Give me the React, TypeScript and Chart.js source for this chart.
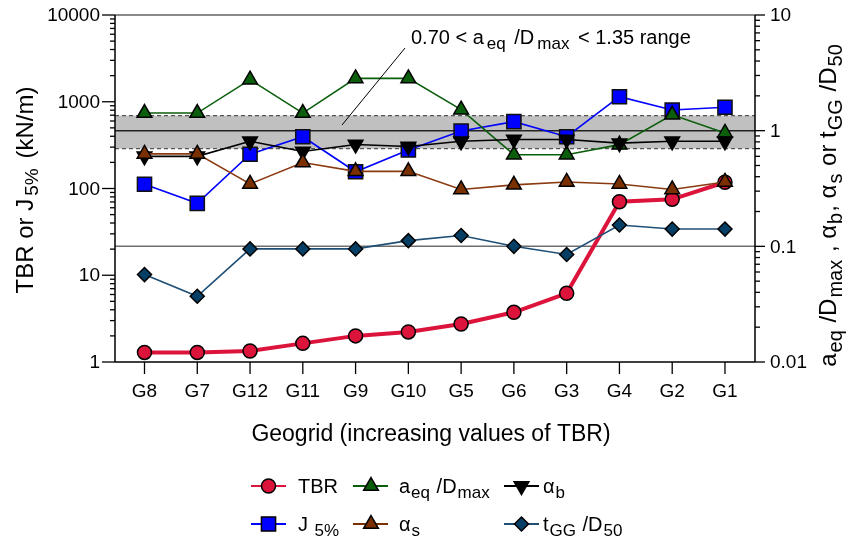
import React, { useEffect, useRef } from 'react';
import { Chart, registerables } from 'chart.js';
import { drawPoint } from 'chart.js/helpers';

Chart.register(...registerables);

// Geogrids, sorted by increasing TBR
const geogrids = ['G8', 'G7', 'G12', 'G11', 'G9', 'G10', 'G5', 'G6', 'G3', 'G4', 'G2', 'G1'];

// Left axis (kN/m)
const tbr = [1.29, 1.29, 1.34, 1.64, 2.0, 2.22, 2.74, 3.74, 6.2, 70.4, 75, 118];
const j5 = [112, 67.5, 248, 395, 156, 278, 460, 589, 395, 1143, 803, 863];

// Right axis (dimensionless)
const aeqDmax = [1.42, 1.42, 2.76, 1.42, 2.83, 2.83, 1.52, 0.62, 0.62, 0.757, 1.37, 0.955];
const alphaB = [0.6, 0.6, 0.81, 0.66, 0.76, 0.73, 0.81, 0.84, 0.84, 0.78, 0.81, 0.81];
const alphaS = [0.63, 0.63, 0.346, 0.53, 0.445, 0.445, 0.31, 0.34, 0.36, 0.346, 0.31, 0.36];
const tggD50 = [0.057, 0.037, 0.095, 0.095, 0.095, 0.112, 0.124, 0.1, 0.085, 0.153, 0.141, 0.141];

const leftTicks = [1, 10, 100, 1000, 10000];
const rightTicks = [0.01, 0.1, 1, 10];

// Recommended aperture range and reference lines (right axis)
const bandLow = 0.7;
const bandHigh = 1.35;
const bandMid = 1;
const refLine = 0.1;

const FONT = '"Liberation Sans", Arial, Helvetica, sans-serif';

type Seg = [string, boolean?];

type RichStyle = { size: number; subSize: number; subDrop: number; gap: number };

function richWidth(ctx: CanvasRenderingContext2D, segs: Seg[], st: RichStyle) {
  let w = 0;
  for (const [t, sub] of segs) {
    ctx.font = `${sub ? st.subSize : st.size}px ${FONT}`;
    w += ctx.measureText(t).width + (sub ? 2 * st.gap : 0);
  }
  return w;
}

function drawRich(
  ctx: CanvasRenderingContext2D,
  segs: Seg[],
  x: number,
  y: number,
  st: RichStyle,
  align: 'left' | 'center' = 'left'
) {
  const w = richWidth(ctx, segs, st);
  let cx = align === 'center' ? x - w / 2 : x;
  ctx.textAlign = 'left';
  ctx.textBaseline = 'alphabetic';
  for (const [t, sub] of segs) {
    ctx.font = `${sub ? st.subSize : st.size}px ${FONT}`;
    if (sub) cx += st.gap;
    ctx.fillText(t, cx, sub ? y + st.subDrop : y);
    cx += ctx.measureText(t).width;
    if (sub) cx += st.gap;
  }
}

function decadeValues(min: number, max: number) {
  const out: { v: number; major: boolean }[] = [];
  for (let d = min; d < max * 1.0001; d *= 10) {
    for (let k = 1; k <= 9; k++) {
      const v = d * k;
      if (v > max * 1.0001) break;
      out.push({ v, major: k === 1 });
    }
  }
  return out;
}

const toXY = (arr: number[]) => arr.map((y, i) => ({ x: i, y }));

type LegendItem = {
  segs: Seg[];
  line: string;
  fill: string;
  style: string;
  radius: number;
  rotation?: number;
};

const legendRows: LegendItem[][] = [
  [
    { segs: [['TBR']], line: '#DC143C', fill: '#DC143C', style: 'circle', radius: 7 },
    { segs: [['a'], ['eq', true], [' /D'], ['max', true]], line: '#0B5E0B', fill: '#0B5E0B', style: 'triangle', radius: 8.5 },
    { segs: [['\u03b1'], ['b', true]], line: '#000000', fill: '#000000', style: 'triangle', radius: 8.5, rotation: 180 },
  ],
  [
    { segs: [['J '], ['5%', true]], line: '#0000FF', fill: '#0000FF', style: 'rect', radius: 10 },
    { segs: [['\u03b1'], ['s', true]], line: '#7A3000', fill: '#7A3000', style: 'triangle', radius: 8.5 },
    { segs: [['t'], ['GG', true], [' /D'], ['50', true]], line: '#1F4F75', fill: '#063F66', style: 'rectRot', radius: 7 },
  ],
];

const backgroundPlugin = {
  id: 'bandAndRefs',
  beforeDatasetsDraw(chart: any) {
    const { ctx, chartArea: a, scales } = chart;
    const yR = scales.yR;
    ctx.save();
    const yTop = yR.getPixelForValue(bandHigh);
    const yBot = yR.getPixelForValue(bandLow);
    ctx.fillStyle = '#C0C0C0';
    ctx.fillRect(a.left, yTop, a.right - a.left, yBot - yTop);

    ctx.strokeStyle = '#555555';
    ctx.lineWidth = 1.2;
    ctx.setLineDash([4, 3]);
    for (const y of [yTop, yBot]) {
      ctx.beginPath();
      ctx.moveTo(a.left, y);
      ctx.lineTo(a.right, y);
      ctx.stroke();
    }
    ctx.setLineDash([]);

    ctx.strokeStyle = '#222222';
    ctx.lineWidth = 1.5;
    const yM = yR.getPixelForValue(bandMid);
    ctx.beginPath();
    ctx.moveTo(a.left, yM);
    ctx.lineTo(a.right, yM);
    ctx.stroke();

    ctx.strokeStyle = '#6E6E6E';
    ctx.lineWidth = 1.5;
    const yRef = yR.getPixelForValue(refLine);
    ctx.beginPath();
    ctx.moveTo(a.left, yRef);
    ctx.lineTo(a.right, yRef);
    ctx.stroke();

    // top frame
    ctx.strokeStyle = '#8A8A8A';
    ctx.lineWidth = 2;
    ctx.beginPath();
    ctx.moveTo(a.left, a.top);
    ctx.lineTo(a.right, a.top);
    ctx.stroke();
    ctx.restore();
  },
};

const axesPlugin = {
  id: 'axesAndText',
  afterDraw(chart: any) {
    const { ctx, chartArea: a, scales } = chart;
    const { x, yL, yR } = scales;
    ctx.save();
    ctx.fillStyle = '#000000';
    ctx.strokeStyle = '#000000';

    // axis lines
    ctx.lineWidth = 1.5;
    ctx.beginPath();
    ctx.moveTo(a.left, a.top);
    ctx.lineTo(a.left, a.bottom);
    ctx.moveTo(a.right, a.top);
    ctx.lineTo(a.right, a.bottom);
    ctx.moveTo(a.left, a.bottom);
    ctx.lineTo(a.right, a.bottom);
    ctx.stroke();

    // left ticks
    ctx.lineWidth = 1.3;
    for (const t of decadeValues(leftTicks[0], leftTicks[leftTicks.length - 1])) {
      const y = yL.getPixelForValue(t.v);
      ctx.beginPath();
      ctx.moveTo(a.left - (t.major ? 13 : 5), y);
      ctx.lineTo(a.left, y);
      ctx.stroke();
    }
    // right ticks
    for (const t of decadeValues(rightTicks[0], rightTicks[rightTicks.length - 1])) {
      const y = yR.getPixelForValue(t.v);
      ctx.beginPath();
      ctx.moveTo(a.right, y);
      ctx.lineTo(a.right + (t.major ? 10 : 5), y);
      ctx.stroke();
    }
    // category ticks
    geogrids.forEach((_, i) => {
      const px = x.getPixelForValue(i);
      ctx.beginPath();
      ctx.moveTo(px, a.bottom);
      ctx.lineTo(px, a.bottom + 12);
      ctx.stroke();
    });

    // tick labels
    ctx.font = `19px ${FONT}`;
    ctx.textBaseline = 'middle';
    ctx.textAlign = 'right';
    for (const v of leftTicks) ctx.fillText(String(v), a.left - 15, yL.getPixelForValue(v) + 1);
    ctx.textAlign = 'left';
    for (const v of rightTicks) ctx.fillText(String(v), a.right + 15, yR.getPixelForValue(v) + 1);
    ctx.textAlign = 'center';
    geogrids.forEach((g, i) => ctx.fillText(g, x.getPixelForValue(i), a.bottom + 30));

    // axis titles
    const titleStyle = { size: 23, subSize: 19, subDrop: 5, gap: 1.5 };
    drawRich(ctx, [['Geogrid (increasing values of TBR)']], 431, a.bottom + 79, titleStyle, 'center');

    ctx.save();
    ctx.translate(33, 190);
    ctx.rotate(-Math.PI / 2);
    drawRich(ctx, [['TBR or J'], ['5%', true], [' (kN/m)']], 0, 0, { size: 24, subSize: 19, subDrop: 5, gap: 3 }, 'center');
    ctx.restore();

    ctx.save();
    ctx.translate(836, 205);
    ctx.rotate(-Math.PI / 2);
    drawRich(
      ctx,
      [['a'], ['eq', true], [' /D'], ['max', true], [' , \u03b1'], ['b', true], [', \u03b1'], ['s', true], [' or t'], ['GG', true], [' /D'], ['50', true]],
      0,
      0,
      { size: 24, subSize: 20, subDrop: 6, gap: 1 },
      'center'
    );
    ctx.restore();

    // range annotation with leader line
    ctx.lineWidth = 1;
    ctx.strokeStyle = '#000000';
    ctx.beginPath();
    ctx.moveTo(342, 125);
    ctx.lineTo(405, 48);
    ctx.stroke();
    drawRich(
      ctx,
      [['0.70 < a'], ['eq', true], [' /D'], ['max', true], [' < 1.35 range']],
      411,
      44,
      { size: 20, subSize: 17, subDrop: 5, gap: 3 },
      'left'
    );

    // legend
    const colX = [
      { l0: 251, l1: 286, m: 268.5, t: 298 },
      { l0: 353, l1: 388, m: 371, t: 399 },
      { l0: 504, l1: 539, m: 521.5, t: 543 },
    ];
    const rowY = [486, 524];
    const legendStyle = { size: 20, subSize: 17, subDrop: 5, gap: 1 };
    legendRows.forEach((row, r) => {
      row.forEach((item, c) => {
        const cx = colX[c];
        const y = rowY[r];
        ctx.strokeStyle = item.line;
        ctx.lineWidth = 2;
        ctx.beginPath();
        ctx.moveTo(cx.l0, y);
        ctx.lineTo(cx.l1, y);
        ctx.stroke();
        ctx.fillStyle = item.fill;
        ctx.strokeStyle = '#000000';
        ctx.lineWidth = 1.5;
        drawPoint(ctx, { pointStyle: item.style as any, radius: item.radius, rotation: item.rotation || 0, borderWidth: 1.5 } as any, cx.m, y);
        ctx.fillStyle = '#000000';
        drawRich(ctx, item.segs, cx.t, y + 7, legendStyle, 'left');
      });
    });

    ctx.restore();
  },
};

export default function App() {
  const canvasRef = useRef<HTMLCanvasElement>(null);

  useEffect(() => {
    const canvas = canvasRef.current;
    if (!canvas) return;

    const chart = new Chart(canvas, {
      type: 'line',
      data: {
        datasets: [
          {
            label: 'alpha_s',
            data: toXY(alphaS),
            yAxisID: 'yR',
            order: 1,
            borderColor: '#8A3A10',
            borderWidth: 1.6,
            pointStyle: 'triangle',
            pointRadius: 8.5,
            pointBackgroundColor: '#7A3000',
            pointBorderColor: '#000000',
            pointBorderWidth: 1.5,
          },
          {
            label: 'alpha_b',
            data: toXY(alphaB),
            yAxisID: 'yR',
            order: 2,
            borderColor: '#000000',
            borderWidth: 1.6,
            pointStyle: 'triangle',
            pointRotation: 180,
            pointRadius: 8.5,
            pointBackgroundColor: '#000000',
            pointBorderColor: '#000000',
            pointBorderWidth: 1.5,
          },
          {
            label: 't_GG/D_50',
            data: toXY(tggD50),
            yAxisID: 'yR',
            order: 3,
            borderColor: '#1F4F75',
            borderWidth: 1.6,
            pointStyle: 'rectRot',
            pointRadius: 7,
            pointBackgroundColor: '#063F66',
            pointBorderColor: '#000000',
            pointBorderWidth: 1.5,
          },
          {
            label: 'a_eq/D_max',
            data: toXY(aeqDmax),
            yAxisID: 'yR',
            order: 4,
            borderColor: '#0B5E0B',
            borderWidth: 1.6,
            pointStyle: 'triangle',
            pointRadius: 8.5,
            pointBackgroundColor: '#0B5E0B',
            pointBorderColor: '#000000',
            pointBorderWidth: 1.5,
          },
          {
            label: 'J5%',
            data: toXY(j5),
            yAxisID: 'yL',
            order: 5,
            borderColor: '#0000FF',
            borderWidth: 1.6,
            pointStyle: 'rect',
            pointRadius: 10,
            pointBackgroundColor: '#0000FF',
            pointBorderColor: '#111111',
            pointBorderWidth: 1.5,
          },
          {
            label: 'TBR',
            data: toXY(tbr),
            yAxisID: 'yL',
            order: 6,
            borderColor: '#DC143C',
            borderWidth: 4,
            pointStyle: 'circle',
            pointRadius: 7,
            pointBackgroundColor: '#DC143C',
            pointBorderColor: '#000000',
            pointBorderWidth: 1.5,
          },
        ],
      },
      options: {
        responsive: false,
        animation: false,
        events: [],
        layout: { padding: { left: 115, top: 15, right: 98, bottom: 176 } },
        plugins: { legend: { display: false }, tooltip: { enabled: false } },
        elements: { line: { tension: 0 } },
        scales: {
          x: { type: 'linear', min: -0.559, max: 11.569, display: false },
          yL: { type: 'logarithmic', position: 'left', min: leftTicks[0], max: leftTicks[leftTicks.length - 1], display: false },
          yR: { type: 'logarithmic', position: 'right', min: rightTicks[0], max: rightTicks[rightTicks.length - 1], display: false },
        },
      },
      plugins: [backgroundPlugin, axesPlugin],
    });

    return () => chart.destroy();
  }, []);

  return (
    <div style={{ position: 'absolute', left: 0, top: 0, width: 853, height: 538, background: '#ffffff' }}>
      <canvas ref={canvasRef} width={853} height={538} style={{ display: 'block' }} />
    </div>
  );
}
